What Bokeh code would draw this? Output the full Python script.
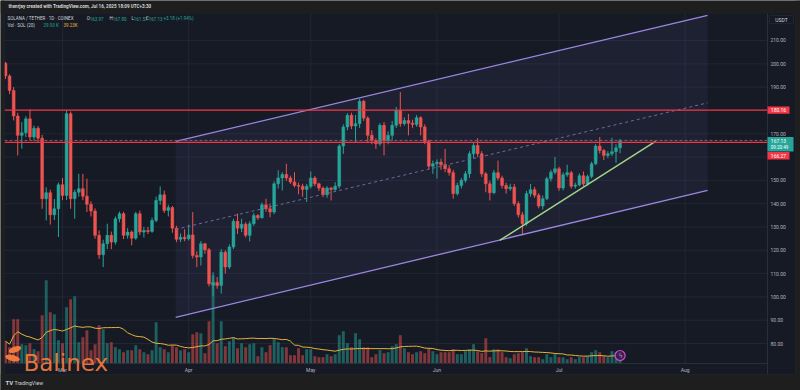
import numpy as np
import pandas as pd
from bokeh.plotting import figure
from bokeh.models import (Range1d, FixedTicker, PrintfTickFormatter, Label,
                          BoxAnnotation, ColumnDataSource)
from bokeh.embed import file_html
from bokeh.resources import INLINE

# ---------------- data ----------------
start_date = "2025-02-15"
end_date = "2025-07-16"

opens = [
    # Feb 15-28
    200.2, 194.8, 188.6, 177.6, 169.3, 170.4, 176.4, 168.6, 172.4, 168.1, 142.1, 144.7, 135.2, 137.8,
    # Mar
    148.1, 143.5, 178.6, 142.1, 144.9, 146.4, 143.2, 139.7, 136.8, 126.4, 118.1, 122.8, 126.4, 123.5, 133.5,
    135.7, 126.4, 127.8, 125.2, 135.7, 127.8, 128.5, 128.1, 132.8, 141.4, 143.8, 137.1, 138.3, 129.5, 124.7, 125.6,
    # Apr
    124.9, 126.6, 117.8, 117.1, 122.8, 120.2, 105.0, 106.2, 104.9, 119.2, 112.8, 121.4, 132.4, 129.5, 131.2,
    126.4, 131.4, 134.9, 134.0, 139.5, 137.8, 136.4, 148.5, 151.0, 152.5, 151.0, 149.3, 147.8, 147.5, 146.1,
    # May
    147.4, 151.0, 148.5, 146.7, 143.8, 146.7, 146.1, 147.5, 164.7, 172.9, 177.9, 173.3, 174.3, 183.9, 176.7,
    169.3, 167.1, 165.7, 173.6, 167.1, 169.3, 173.6, 180.0, 174.3, 175.7, 174.5, 174.0, 176.9, 172.9, 166.7, 156.1,
    # Jun
    157.1, 157.8, 156.7, 155.0, 153.3, 144.3, 147.8, 150.0, 152.8, 161.4, 165.0, 161.4, 152.8, 148.5, 144.7,
    153.3, 151.0, 147.8, 146.4, 147.1, 140.0, 135.2, 131.4, 144.3, 146.0, 143.6, 139.0, 142.1, 150.7, 153.5,
    # Jul 1-16
    155.0, 146.7, 152.4, 153.3, 147.5, 148.0, 152.0, 148.5, 151.6, 157.1, 164.7, 162.8, 160.7, 161.4, 162.3, 163.97,
]
highs = [
    200.8, 195.5, 190.0, 179.0, 175.0, 177.5, 180.4, 173.5, 173.3, 169.5, 147.0, 146.0, 142.0, 149.0,
    151.0, 180.0, 179.5, 146.0, 152.8, 152.8, 150.7, 141.0, 138.0, 128.5, 124.5, 131.4, 128.0, 134.5, 136.6,
    136.5, 129.5, 128.5, 136.5, 137.0, 130.0, 130.0, 134.0, 143.0, 147.4, 145.6, 139.5, 139.0, 130.5, 127.2, 129.0,
    131.0, 136.4, 119.5, 124.0, 123.2, 121.0, 110.6, 108.5, 120.5, 120.0, 122.5, 133.5, 135.7, 133.5, 132.0,
    132.5, 136.0, 135.5, 140.5, 142.1, 140.0, 149.5, 154.3, 153.5, 157.1, 152.0, 153.5, 149.0, 148.5, 148.5,
    153.8, 151.8, 149.0, 147.3, 147.5, 147.2, 149.2, 165.5, 174.0, 178.8, 179.0, 178.0, 185.0, 184.5, 177.5,
    171.5, 168.0, 174.5, 175.0, 171.0, 175.5, 181.5, 187.9, 177.0, 178.5, 176.0, 178.0, 177.5, 174.0, 167.5, 158.5,
    159.0, 159.3, 163.5, 156.5, 154.5, 149.0, 151.0, 154.0, 162.5, 166.1, 168.1, 162.5, 153.5, 149.8, 154.5,
    158.5, 152.0, 149.0, 148.5, 148.5, 141.0, 136.5, 145.5, 148.5, 147.2, 144.5, 143.5, 151.5, 154.5, 160.0,
    155.8, 153.5, 156.7, 154.0, 149.0, 153.0, 153.8, 152.5, 158.0, 165.5, 168.6, 163.5, 162.5, 168.3, 165.5, 167.80,
]
lows = [
    193.5, 187.0, 175.7, 160.7, 163.6, 168.5, 167.2, 167.0, 166.5, 137.8, 132.8, 131.0, 133.0, 125.7,
    141.5, 141.5, 137.8, 133.5, 143.0, 141.5, 136.4, 134.5, 125.0, 116.3, 112.8, 120.5, 120.5, 122.5, 132.0,
    124.8, 125.0, 122.1, 124.5, 126.5, 125.5, 127.0, 127.5, 132.0, 139.5, 136.0, 134.5, 127.5, 123.5, 123.5, 123.9,
    124.2, 116.5, 112.8, 113.5, 118.5, 104.5, 100.5, 103.5, 101.4, 110.0, 112.0, 120.5, 127.0, 127.8, 125.5,
    123.8, 130.5, 133.0, 133.5, 136.5, 134.2, 135.5, 146.5, 145.7, 149.8, 148.5, 147.0, 144.0, 143.0, 140.7,
    146.5, 147.5, 145.5, 142.8, 142.5, 141.4, 145.5, 146.5, 161.4, 171.5, 172.0, 166.1, 172.5, 175.5, 166.0,
    165.5, 163.5, 164.8, 160.7, 165.5, 167.0, 172.5, 173.0, 173.5, 169.3, 172.5, 173.0, 169.3, 165.5, 154.8, 152.8,
    150.7, 154.5, 153.5, 152.0, 142.1, 143.5, 146.5, 149.0, 151.0, 159.5, 160.0, 151.5, 144.9, 141.4, 144.0,
    150.0, 146.5, 144.3, 145.5, 139.0, 134.0, 126.4, 130.5, 143.0, 142.5, 138.0, 137.5, 141.5, 149.5, 152.5,
    145.5, 145.7, 151.5, 146.5, 146.5, 147.4, 147.5, 147.8, 150.8, 156.5, 161.5, 158.7, 159.5, 160.5, 157.5, 161.57,
]
closes = [
    194.8, 188.6, 177.6, 169.3, 170.4, 176.4, 168.6, 172.4, 168.1, 142.1, 144.7, 135.2, 137.8, 148.1,
    143.5, 178.6, 142.1, 144.9, 146.4, 143.2, 139.7, 136.8, 126.4, 118.1, 122.8, 126.4, 123.5, 133.5, 135.7,
    126.4, 127.8, 125.2, 135.7, 127.8, 128.5, 128.1, 132.8, 141.4, 143.8, 137.1, 138.3, 129.5, 124.7, 125.6, 124.9,
    126.6, 117.8, 117.1, 122.8, 120.2, 105.6, 106.2, 104.9, 119.2, 112.8, 121.4, 132.4, 129.5, 131.2, 126.4,
    131.4, 134.9, 134.0, 139.5, 137.8, 136.4, 148.5, 151.0, 152.5, 151.0, 149.3, 147.8, 147.5, 146.1, 147.4,
    151.0, 148.5, 146.7, 143.8, 146.7, 146.1, 147.5, 164.7, 172.9, 177.9, 173.3, 174.3, 183.9, 176.7, 169.3,
    167.1, 165.7, 173.6, 167.1, 169.3, 173.6, 180.0, 174.3, 175.7, 174.5, 174.0, 176.9, 172.9, 166.7, 156.1, 157.1,
    157.8, 156.7, 155.0, 153.3, 144.3, 147.8, 150.0, 152.8, 161.4, 165.0, 161.4, 152.8, 148.5, 144.7, 153.3,
    151.0, 147.8, 146.4, 147.1, 140.0, 135.2, 131.4, 144.3, 146.0, 143.6, 139.0, 142.1, 150.7, 153.5, 155.0,
    146.7, 152.4, 153.3, 147.5, 148.0, 152.0, 148.5, 151.6, 157.1, 164.7, 162.8, 160.7, 161.4, 162.3, 163.95, 167.13,
]
volume_k = [
    66, 48, 132, 132, 57, 54, 60, 42, 36, 144, 249, 153, 147, 69,
    60, 168, 192, 201, 63, 78, 99, 39, 57, 114, 102, 60, 63, 48, 42,
    33, 39, 39, 54, 42, 33, 27, 39, 123, 48, 42, 33, 54, 48, 39, 42,
    33, 87, 93, 90, 30, 126, 264, 60, 126, 51, 66, 78, 45, 60, 48,
    57, 60, 21, 48, 33, 54, 72, 63, 48, 48, 24, 24, 45, 24, 42,
    42, 21, 18, 18, 27, 21, 27, 84, 96, 60, 48, 90, 72, 48, 48,
    18, 27, 39, 30, 33, 51, 57, 84, 45, 33, 27, 33, 36, 30, 45, 36,
    27, 33, 33, 33, 42, 27, 27, 36, 42, 57, 36, 30, 75, 18, 42,
    42, 33, 18, 15, 27, 30, 33, 45, 21, 18, 18, 12, 27, 18, 27,
    18, 18, 12, 18, 12, 18, 18, 21, 33, 39, 33, 21, 18, 36, 33, 29.93,
]

price_ticks = [80, 90, 100, 110, 120, 130, 140, 150, 160, 170, 180, 190, 200, 210]
month_labels = ["Mar", "Apr", "May", "Jun", "Jul", "Aug"]
month_dates = ["2025-03-01", "2025-04-01", "2025-05-01", "2025-06-01", "2025-07-01", "2025-08-01"]

# drawings (days since Mar 1, price)
channel_day = [27.8, 158.5]
channel_upper = [166.7, 220.8]
channel_lower = [91.2, 145.7]
trend_day = [107.4, 145.7]
trend_price = [124.2, 166.7]
resistance_level = 180.16
support_level = 166.27
last_price = 167.13

# ---------------- geometry (canvas pixels) ----------------
W, H = 800, 390
PX_PER_DAY, X_MAR1 = 4.07, 62.0          # x position of Mar 1
PX_PER_USD, Y_80 = 2.3308, 343.0          # y position of price 80
VOL_PER_PX, VOL_BASE = 3.0, 362.7
PANE_L, PANE_R, PANE_T, PANE_B = 4, 767, 12.7, 363
OUT_R, OUT_B = 795, 374

BG = "#161a25"
OUTER = "#1e1e1e"
UP, DOWN = "#26a69a", "#ef5350"
TXT = "#b2b5be"
LEG = "#d1d4dc"


def dx(px):
    return (px - X_MAR1) / PX_PER_DAY


def dy(py):
    return 80 + (Y_80 - py) / PX_PER_USD


def cy(price):
    return Y_80 - (price - 80) * PX_PER_USD


origin = pd.Timestamp("2025-03-01")
dates = pd.date_range(start_date, end_date, freq="D")
xd = (dates - origin).days.to_numpy()
o = np.array(opens); h = np.array(highs); l = np.array(lows); c = np.array(closes)
vol = np.array(volume_k, dtype=float)
ma = pd.Series(vol).rolling(20, min_periods=1).mean().to_numpy()
col = np.where(c >= o, UP, DOWN)
month_x = [int((pd.Timestamp(d) - origin).days) for d in month_dates]

src = ColumnDataSource(dict(x=xd, o=o, h=h, l=l, c=c,
                            top=np.maximum(o, c), bottom=np.minimum(o, c),
                            color=col, vol=vol, ma=ma))

p = figure(width=W, height=H, x_range=Range1d(dx(0), dx(W)), y_range=Range1d(dy(H), dy(0)),
           output_backend="svg", toolbar_location=None, title=None,
           y_axis_location="right", min_border=0,
           background_fill_color=BG, border_fill_color=BG, outline_line_color=None)
p.extra_y_ranges = {"vol": Range1d(-(H - VOL_BASE) * VOL_PER_PX, VOL_BASE * VOL_PER_PX)}
p.grid.visible = False

# axes drawn at the pane edges
p.yaxis.fixed_location = dx(PANE_R)
p.yaxis.bounds = (dy(OUT_B), dy(PANE_T))
p.yaxis.ticker = FixedTicker(ticks=price_ticks)
p.yaxis.formatter = PrintfTickFormatter(format="%.2f")
p.xaxis.fixed_location = dy(PANE_B)
p.xaxis.bounds = (dx(PANE_L), dx(PANE_R))
p.xaxis.ticker = FixedTicker(ticks=month_x)
p.xaxis.major_label_overrides = {mx: lab for mx, lab in zip(month_x, month_labels)}
for ax in (p.xaxis, p.yaxis):
    ax.major_label_text_font_size = "5px"
    ax.major_label_text_color = TXT
    ax.major_label_text_font = "Roboto"
    ax.axis_line_color = "#2a2e39"
    ax.major_tick_line_color = None
    ax.minor_tick_line_color = None
    ax.major_tick_out = 0
    ax.major_tick_in = 0
    ax.minor_tick_out = 0
    ax.minor_tick_in = 0
p.yaxis.major_label_standoff = 3
p.xaxis.major_label_standoff = 3

# grid lines inside the pane
p.segment(x0=[dx(PANE_L)] * len(price_ticks), x1=[dx(PANE_R)] * len(price_ticks),
          y0=price_ticks, y1=price_ticks, line_color="#222634", line_width=1)
p.segment(x0=month_x, x1=month_x, y0=[dy(PANE_T)] * len(month_x), y1=[dy(PANE_B)] * len(month_x),
          line_color="#222634", line_width=1)

# channel fill
p.patch(x=[channel_day[0], channel_day[1], channel_day[1], channel_day[0]],
        y=[channel_upper[0], channel_upper[1], channel_lower[1], channel_lower[0]],
        fill_color="#8c7ae6", fill_alpha=0.07, line_color=None)

# volume
p.vbar(x="x", width=0.72, top="vol", bottom=0, y_range_name="vol", source=src,
       fill_color="color", fill_alpha=0.5, line_color=None)
p.line(x="x", y="ma", y_range_name="vol", source=src, line_color="#e6b33c", line_width=1)

# candles
p.segment(x0="x", y0="l", x1="x", y1="h", source=src, line_color="color", line_width=1)
p.vbar(x="x", width=0.7, top="top", bottom="bottom", source=src,
       fill_color="color", line_color="color", line_width=0.5)

# channel lines
p.line(channel_day, channel_upper, line_color="#9b86e0", line_width=1.3)
p.line(channel_day, channel_lower, line_color="#9b86e0", line_width=1.3)
mid = [(a + b) / 2 for a, b in zip(channel_upper, channel_lower)]
p.line(channel_day, mid, line_color="#6e6a9a", line_width=1, line_dash="3 3")
# trend line
p.line(trend_day, trend_price, line_color="#a0d48a", line_width=1.5)

# horizontal levels across the pane
xs_pane = [dx(PANE_L), dx(PANE_R)]
p.line(xs_pane, [resistance_level] * 2, line_color="#f23645", line_width=1.2)
p.line(xs_pane, [last_price] * 2, line_color="#8c5a6e", line_width=1, line_dash="3 2")
p.line(xs_pane, [support_level] * 2, line_color="#f23645", line_width=1.2)

# watermark logo
p.ellipse(x=[dx(14.5)], y=[dy(349)], width=13, height=6, angle=0.35,
          width_units="screen", height_units="screen", fill_color="#f07a3c", line_color=None)
p.ellipse(x=[dx(12)], y=[dy(357.5)], width=15, height=6, angle=-0.25,
          width_units="screen", height_units="screen", fill_color="#f07a3c", line_color=None)

# live icon at the last bar
p.scatter(x=[xd[-1]], y=[dy(355)], marker="circle", size=10,
          fill_color="#3a1f4a", line_color="#c050d0", line_width=1.2)


def box(left, right, top, bottom, fill, line=None, alpha=1.0):
    p.add_layout(BoxAnnotation(left=left, right=right, top=top, bottom=bottom,
                               left_units="canvas", right_units="canvas",
                               top_units="canvas", bottom_units="canvas",
                               fill_color=fill, fill_alpha=alpha, line_color=line))


def label(x, y, text, color, size="4.5px", align="left", bold=False, font="Roboto",
          baseline="middle", alpha=1.0):
    p.add_layout(Label(x=x, y=y, x_units="canvas", y_units="canvas", text=text,
                       text_color=color, text_font_size=size, text_align=align,
                       text_baseline=baseline, text_font=font, text_alpha=alpha,
                       text_font_style="bold" if bold else "normal"))


# outer bands and pane border
box(0, W, 0, PANE_T, OUTER)
box(0, W, OUT_B, H, OUTER)
box(0, PANE_L, 0, H, OUTER)
box(OUT_R, W, 0, H, OUTER)
box(PANE_L, OUT_R, PANE_T, OUT_B, None, line="#2a2e39")

label(8, 6.3, "thenrjay created with TradingView.com, Jul 16, 2025 18:09 UTC+3:30", LEG,
      size="4.6px", bold=True)
# legend
label(7, 18, "SOLANA / TETHER · 1D · COINEX", LEG)
for letter, val, xv in (("O", "163.97", 89.3), ("H", "167.80", 112.3),
                        ("L", "161.57", 133.3), ("C", "167.13", 148.3)):
    label(xv, 18, letter, LEG, align="right")
    label(xv, 18, val, UP)
label(163, 18, "+3.18 (+1.94%)", UP)
label(7, 25, "Vol · SOL (20)", LEG)
label(43, 25, "29.93 K", UP)
label(63, 25, "39.23K", "#e6b33c")

# price axis tags
box(769, 793, 15, 23, BG, line="#3a3e49")
label(781, 19, "USDT", LEG, size="5px", align="center")

yr = cy(resistance_level)
box(PANE_R, 789, yr - 3.6, yr + 3.6, "#f23645")
label(778, yr, "180.16", "#ffffff", size="5px", align="center")

yl = cy(last_price) - 3.3
box(PANE_R, 793, yl, yl + 14.5, UP)
label(778, yl + 3.6, "167.13", "#ffffff", size="5px", align="center")
label(779, yl + 10.6, "09:20:49", "#ffffff", size="4.6px", align="center")

ys = yl + 15
box(PANE_R, 789, ys, ys + 7.4, "#f23645")
label(778, ys + 3.7, "166.27", "#ffffff", size="5px", align="center")

# watermark text
label(23, 362, "Balinex", "#f07a3c", size="23px", font="DejaVu Sans", baseline="alphabetic",
      alpha=0.95)
label(620, 355.5, "ϟ", "#e070e0", size="7px", align="center", font="DejaVu Sans")

# footer
label(5, 382, "TV", LEG, size="6px", bold=True)
label(14, 382, "TradingView", LEG, size="5.2px")

open("out.html", "w").write(file_html(p, INLINE))
